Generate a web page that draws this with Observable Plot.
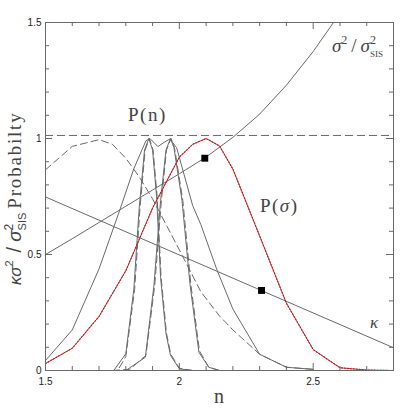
<!DOCTYPE html>
<html><head><meta charset="utf-8">
<script src="https://cdn.jsdelivr.net/npm/d3@7"></script>
<script src="https://cdn.jsdelivr.net/npm/@observablehq/plot@0.6"></script>
<style>body{margin:0;background:#fff}svg{display:block}</style>
</head><body><div id="chart"></div>
<script>
// ---- axes ----
const xDomain = [1.5, 2.8];
const yDomain = [0, 1.5];
const xMajor = [1.5, 2, 2.5];
const xMinor = [1.6, 1.7, 1.8, 1.9, 2.1, 2.2, 2.3, 2.4, 2.6, 2.7];
const yMajor = [0, 0.5, 1, 1.5];
const yMinor = [0.1, 0.2, 0.3, 0.4, 0.6, 0.7, 0.8, 0.9, 1.1, 1.2, 1.3, 1.4];

// ---- series ----
const sigRatioX = [1.5, 1.6, 1.7, 1.8, 1.9, 2.0, 2.1, 2.2, 2.3, 2.4, 2.5, 2.6];
const sigRatioY = [0.5, 0.568, 0.638, 0.708, 0.778, 0.848, 0.92, 1.005, 1.105, 1.23, 1.375, 1.54];

const kappaX = [1.5, 2.8];
const kappaY = [0.748, 0.098];

const pSigmaX = [1.5, 1.6, 1.7, 1.8, 1.9, 2.0, 2.05, 2.1, 2.15, 2.2, 2.3, 2.4, 2.5, 2.6, 2.7, 2.8];
const pSigmaY = [0.03, 0.096, 0.233, 0.43, 0.70, 0.92, 0.975, 1.0, 0.968, 0.868, 0.58, 0.29, 0.09, 0.012, 0.002, 0];

const pnDashX = [1.5, 1.6, 1.7, 1.75, 1.8, 1.85, 1.9, 2.0, 2.08, 2.15, 2.2, 2.3, 2.4, 2.5];
const pnDashY = [0.865, 0.966, 0.995, 0.975, 0.915, 0.835, 0.74, 0.52, 0.34, 0.235, 0.175, 0.07, 0.014, 0.005];

const pnSolidX = [1.5, 1.6, 1.7, 1.78, 1.83, 1.875, 1.89, 1.92, 1.945, 1.965, 1.99, 2.05, 2.08, 2.14, 2.2, 2.3, 2.4, 2.5];
const pnSolidY = [0.043, 0.175, 0.438, 0.70, 0.87, 0.99, 1.0, 0.965, 0.985, 0.998, 0.96, 0.71, 0.63, 0.435, 0.265, 0.07, 0.014, 0.005];

const narrowAX = [1.70, 1.755, 1.80, 1.83, 1.85, 1.87, 1.886, 1.90, 1.915, 1.93, 1.95, 1.967, 2.0, 2.05];
const narrowAY = [0, 0, 0.072, 0.35, 0.70, 0.95, 1.0, 0.95, 0.75, 0.40, 0.16, 0.065, 0.007, 0];
const narrowADashX = [1.70, 1.77, 1.80, 1.833, 1.853, 1.872, 1.888, 1.902, 1.917, 1.932, 1.952, 1.968, 2.0, 2.05];
const narrowADashY = [0, 0, 0.06, 0.35, 0.70, 0.95, 1.0, 0.95, 0.75, 0.40, 0.16, 0.07, 0.01, 0];

const narrowBX = [1.75, 1.80, 1.873, 1.905, 1.93, 1.95, 1.967, 1.98, 2.01, 2.04, 2.073, 2.11, 2.15];
const narrowBY = [0, 0, 0.057, 0.366, 0.733, 0.95, 1.0, 0.96, 0.733, 0.37, 0.079, 0.014, 0];
const narrowBDashX = [1.75, 1.815, 1.875, 1.908, 1.933, 1.952, 1.969, 1.982, 2.013, 2.043, 2.075, 2.11, 2.15];
const narrowBDashY = [0, 0.005, 0.065, 0.366, 0.733, 0.95, 1.0, 0.96, 0.733, 0.37, 0.085, 0.014, 0];

const markerX = [2.095, 2.307];
const markerY = [0.915, 0.345];
const refLevel = [1.013];

// ---- annotation positions (data coords) ----
const labelPn = {x: 1.81, y: 1.072};
const labelPsigma = {x: 2.303, y: 0.68};
const labelSig = {x: 2.572, y: 1.37};
const labelKappa = {x: 2.714, y: 0.181};

const pts = (xs, ys) => xs.map((x, i) => ({x, y: ys[i]}));

const W = 415, H = 415, mL = 45, mR = 22, mT = 22, mB = 45;
const xPerPx = (xDomain[1] - xDomain[0]) / (W - mL - mR);
const yPerPx = (yDomain[1] - yDomain[0]) / (H - mT - mB);
const majLen = 7, minLen = 4;
const gray = "#6a6a6a";

const tickMarks = [];
for (const [vals, len] of [[xMajor, majLen], [xMinor, minLen]]) {
  tickMarks.push(Plot.ruleX(vals, {x: d => d, y1: yDomain[0], y2: yDomain[0] + len * yPerPx, stroke: gray}));
  tickMarks.push(Plot.ruleX(vals, {x: d => d, y1: yDomain[1], y2: yDomain[1] - len * yPerPx, stroke: gray}));
}
for (const [vals, len] of [[yMajor, majLen], [yMinor, minLen]]) {
  tickMarks.push(Plot.ruleY(vals, {y: d => d, x1: xDomain[0], x2: xDomain[0] + len * xPerPx, stroke: gray}));
  tickMarks.push(Plot.ruleY(vals, {y: d => d, x1: xDomain[1], x2: xDomain[1] - len * xPerPx, stroke: gray}));
}

const dash = "7,4";
const solid = (d) => Plot.line(d, {x: "x", y: "y", stroke: gray, strokeWidth: 1, clip: true});
const dashed = (d) => Plot.line(d, {x: "x", y: "y", stroke: gray, strokeWidth: 1, strokeDasharray: dash, clip: true});

const plot = Plot.plot({
  width: W, height: H,
  marginLeft: mL, marginRight: mR, marginTop: mT, marginBottom: mB,
  x: {domain: xDomain},
  y: {domain: yDomain},
  style: {fontFamily: "Liberation Sans, Arial, sans-serif", fontSize: "10px", color: "#222", background: "#fff"},
  marks: [
    Plot.ruleY(refLevel, {y: d => d, stroke: gray, strokeDasharray: "8,4"}),
    dashed(pts(pnDashX, pnDashY)),
    solid(pts(pnSolidX, pnSolidY)),
    solid(pts(narrowAX, narrowAY)),
    dashed(pts(narrowADashX, narrowADashY)),
    solid(pts(narrowBX, narrowBY)),
    dashed(pts(narrowBDashX, narrowBDashY)),
    solid(pts(kappaX, kappaY)),
    solid(pts(sigRatioX, sigRatioY)),
    solid(pts(pSigmaX, pSigmaY)),
    Plot.line(pts(pSigmaX, pSigmaY), {x: "x", y: "y", stroke: "red", strokeWidth: 1.1, strokeDasharray: "1,2", clip: true}),
    Plot.dot(pts(markerX, markerY), {x: "x", y: "y", symbol: "square", r: 3.9, fill: "black", stroke: "none"}),
    ...tickMarks,
    Plot.frame({stroke: gray}),
    Plot.axisX({ticks: xMajor, tickSize: 0, tickPadding: 7, tickFormat: d => String(d), label: null, fontSize: 10}),
    Plot.axisY({ticks: yMajor, tickSize: 0, tickPadding: 4, tickFormat: d => String(d), label: null, fontSize: 10})
  ]
});

document.getElementById("chart").appendChild(plot);

const sx = plot.scale("x"), sy = plot.scale("y");
const svg = d3.select(plot);
const serif = "Liberation Serif, Times New Roman, serif";
const sans = "Liberation Sans, Arial, sans-serif";

function richText(parent, parts, attrs) {
  const t = parent.append("text").attr("fill", "#444").attr("text-anchor", "start");
  for (const [k, v] of Object.entries(attrs || {})) t.attr(k, v);
  for (const p of parts) {
    const s = t.append("tspan").text(p.t)
      .attr("font-family", p.f || serif)
      .attr("font-size", p.s || 19);
    if (p.i) s.attr("font-style", "italic");
    if (p.dx) s.attr("dx", p.dx);
    if (p.dy) s.attr("dy", p.dy);
    if (p.ls) s.attr("letter-spacing", p.ls);
  }
  return t;
}

// P(n)
richText(svg, [{t: "P(n)", ls: 1.5}], {x: sx.apply(labelPn.x), y: sy.apply(labelPn.y)});
// P(sigma)
richText(svg, [{t: "P(", ls: 1.5}, {t: "σ", i: true, ls: 1.5}, {t: ")"}], {x: sx.apply(labelPsigma.x), y: sy.apply(labelPsigma.y)});
// sigma^2 / sigma^2_SIS
richText(svg, [
  {t: "σ", i: true, s: 19},
  {t: "2", s: 12, dy: -8},
  {t: "/", s: 19, dy: 8, dx: 4},
  {t: "σ", i: true, s: 19, dx: 4},
  {t: "2", s: 12, dy: -8},
  {t: "SIS", s: 9, dy: 13, dx: -6}
], {x: sx.apply(labelSig.x), y: sy.apply(labelSig.y)});
// kappa
richText(svg, [{t: "κ", i: true, s: 17}], {x: sx.apply(labelKappa.x), y: sy.apply(labelKappa.y)});

// x axis label
richText(svg, [{t: "n", s: 20}], {x: sx.apply((xDomain[0] + xDomain[1]) / 2), y: 403, "text-anchor": "middle"});

// y axis label (rotated)
const gy = svg.append("g").attr("transform", `translate(21,${sy.apply(0.366)}) rotate(-90)`);
richText(gy, [
  {t: "κσ", i: true, f: sans, s: 17},
  {t: "2", f: sans, s: 11, dy: -8},
  {t: "/", f: sans, s: 20, dy: 8, dx: 8},
  {t: "σ", i: true, f: sans, s: 19, dx: 5},
  {t: "2", f: sans, s: 12, dy: -8},
  {t: "SIS", f: sans, s: 11, dy: 13, dx: -6.7},
  {t: "Probabilty", s: 19, dy: -5, dx: 4, ls: 1.8}
], {x: 0, y: 0});
</script>
</body></html>
